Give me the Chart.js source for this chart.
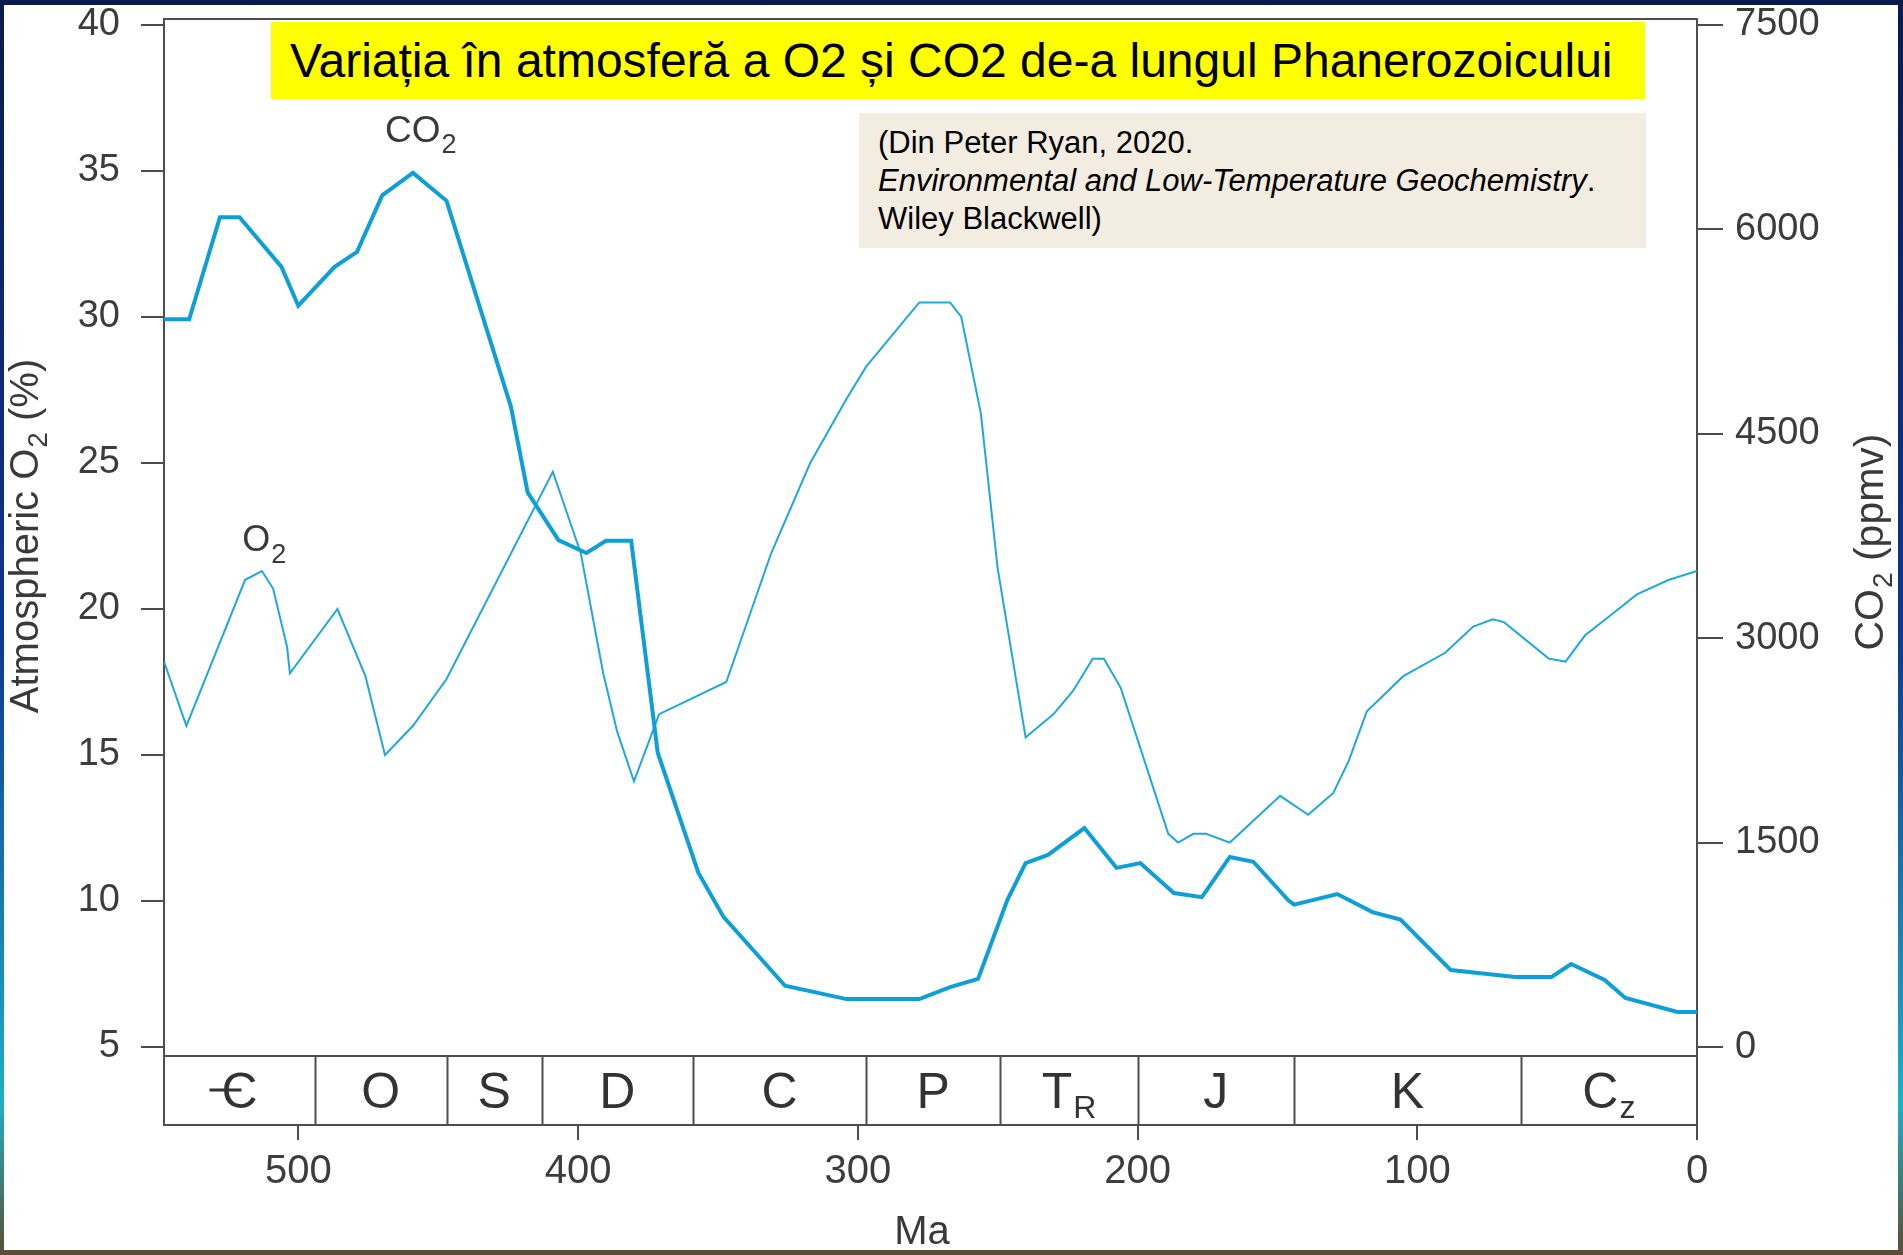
<!DOCTYPE html>
<html lang="ro">
<head>
<meta charset="utf-8">
<title>Variația O2 și CO2 în Phanerozoic</title>
<script src="https://cdn.jsdelivr.net/npm/chart.js@4.4.1/dist/chart.umd.min.js"></script>
<style>
  html, body { margin: 0; padding: 0; }
  body {
    width: 1903px; height: 1255px; overflow: hidden; position: relative;
    background: linear-gradient(180deg, #0a1a4c 0%, #0e3596 50%, #1eb0c4 88%, #5c4c34 100%);
  }
  #slide { position: absolute; left: 4px; top: 5px; width: 1894px; height: 1245px; background: #fff; }
  #chart { position: absolute; left: 0; top: 0; }
  .title-box {
    position: absolute; left: 267px; top: 17px; width: 1374px; height: 77px;
    box-sizing: border-box; padding-left: 19px; background: #ffff00; color: #000;
    font: 48px "Liberation Sans", Arial, sans-serif; line-height: 77px; white-space: nowrap;
  }
  .cite-box {
    position: absolute; left: 855px; top: 108px; width: 787px; height: 135px;
    box-sizing: border-box; padding: 11px 0 0 19px; background: #f3ece1; color: #000;
    font: 31px "Liberation Sans", Arial, sans-serif; line-height: 38px; white-space: nowrap;
  }
</style>
</head>
<body>
<div id="slide">
  <canvas id="chart" width="1894" height="1245"></canvas>
  <div class="title-box">Variația în atmosferă a O2 și CO2 de-a lungul Phanerozoicului</div>
  <div class="cite-box">(Din Peter Ryan, 2020.<br><i>Environmental and Low-Temperature Geochemistry</i>.<br>Wiley Blackwell)</div>
</div>
<script>
// ---- data (ages in Ma) ----
const co2Ages = [548, 539, 528, 521, 506, 500, 487, 479, 470, 459,
  447, 424, 418, 407, 397, 390, 381, 371.5, 357, 348,
  326, 304, 278, 267, 257, 246.5, 240, 232, 219, 207.5,
  199, 187, 177, 167, 158.6, 146, 144, 128.6, 116, 106,
  88, 65, 52, 45, 33, 25.6, 7, 0];
const co2Values = [5340, 5340, 6090, 6090, 5725, 5440, 5725, 5835, 6250, 6415,
  6210, 4700, 4070, 3720, 3625, 3715, 3715, 2160, 1280, 955,
  450, 352, 352, 440, 500, 1080, 1350, 1410, 1607, 1315,
  1350, 1130, 1100, 1395, 1360, 1075, 1045, 1123, 990, 935,
  565, 514, 514, 609, 492, 360, 257, 257];

const o2Ages = [548, 540, 519, 513, 509, 504, 503, 486, 476, 469,
  459, 447, 409, 399, 391, 386, 380, 371, 347, 331,
  317, 304, 297, 278, 267, 263, 256, 250, 240, 230,
  223, 216, 212, 206, 189, 185.5, 180, 175.5, 167, 149,
  139, 130, 124.5, 118, 105, 90, 80, 73, 69, 53,
  47, 40, 32, 21.5, 10, 0];
const o2Values = [18.2, 16.0, 21.0, 21.3, 20.7, 18.7, 17.8, 20.0, 17.7, 15.0,
  16.0, 17.6, 24.7, 21.9, 17.8, 15.8, 14.1, 16.4, 17.5, 21.9,
  25.0, 27.2, 28.3, 30.5, 30.5, 30.0, 26.7, 21.4, 15.6, 16.4,
  17.2, 18.3, 18.3, 17.3, 12.3, 12.0, 12.3, 12.3, 12.0, 13.6,
  12.95, 13.7, 14.8, 16.5, 17.7, 18.5, 19.4, 19.65, 19.55, 18.3,
  18.2, 19.1, 19.7, 20.5, 21.0, 21.3];

// geological periods: boundaries in Ma, label letter + subscript
const periodBounds = [548, 494, 447, 413, 359, 297, 249, 200, 144, 63, 0];
const periodLetters = ["C", "O", "S", "D", "C", "P", "T", "J", "K", "C"];
const periodSubs = ["", "", "", "", "", "", "R", "", "", "z"];

const ageTicks = [500, 400, 300, 200, 100, 0];
const o2Ticks = [5, 10, 15, 20, 25, 30, 35, 40];
const co2Ticks = [0, 1500, 3000, 4500, 6000, 7500];

// ---- styling ----
const FONT = '"Liberation Sans", Arial, sans-serif';
const AXIS_COLOR = "#4d4d4d";
const TEXT_COLOR = "#3c3c3c";
const LINE_COLOR = "#0f9fd8";
const STRIP_HEIGHT = 69;

function drawSubText(ctx, x, y, main, sub, size, subSize, subDrop) {
  ctx.font = `${size}px ${FONT}`;
  ctx.fillText(main, x, y);
  const w = ctx.measureText(main).width;
  ctx.font = `${subSize}px ${FONT}`;
  ctx.fillText(sub, x + w + 1, y + subDrop);
}

function subTextWidth(ctx, main, sub, size, subSize) {
  ctx.font = `${size}px ${FONT}`;
  const w1 = ctx.measureText(main).width;
  ctx.font = `${subSize}px ${FONT}`;
  return w1 + (sub ? ctx.measureText(sub).width + 1 : 0);
}

function line(ctx, x1, y1, x2, y2) {
  ctx.beginPath();
  ctx.moveTo(x1, y1);
  ctx.lineTo(x2, y2);
  ctx.stroke();
}

const decorPlugin = {
  id: "decor",
  afterDraw(chart) {
    const { ctx, chartArea: area, scales } = chart;
    const xs = scales.x, yO2 = scales.yO2, yCO2 = scales.yCO2;
    ctx.save();
    ctx.strokeStyle = AXIS_COLOR;
    ctx.lineWidth = 2;

    // top edge of the plot frame
    line(ctx, area.left, area.top, area.right, area.top);

    // period strip
    const stripTop = area.bottom - STRIP_HEIGHT;
    line(ctx, area.left, stripTop, area.right, stripTop);
    for (let i = 1; i < periodBounds.length - 1; i++) {
      const px = Math.round(xs.getPixelForValue(periodBounds[i])) + 0.5;
      line(ctx, px, stripTop, px, area.bottom);
    }
    ctx.fillStyle = "#333";
    ctx.textAlign = "left";
    ctx.textBaseline = "alphabetic";
    const base = area.bottom - 17;
    for (let i = 0; i < periodLetters.length; i++) {
      const cx = (xs.getPixelForValue(periodBounds[i]) + xs.getPixelForValue(periodBounds[i + 1])) / 2;
      const w = subTextWidth(ctx, periodLetters[i], periodSubs[i], 50, 32);
      const x0 = cx - w / 2;
      drawSubText(ctx, x0, base, periodLetters[i], periodSubs[i], 50, 32, 10);
      if (i === 0) {
        // Cambrian symbol: C with a bar through it
        ctx.lineWidth = 3;
        ctx.strokeStyle = "#333";
        line(ctx, x0 - 12, base - 18, x0 + 20, base - 18);
        ctx.strokeStyle = AXIS_COLOR;
        ctx.lineWidth = 2;
      }
    }

    // series labels
    ctx.fillStyle = "#3a3a3a";
    drawSubText(ctx, xs.getPixelForValue(469), yCO2.getPixelForValue(6642), "CO", "2", 37, 27, 11);
    drawSubText(ctx, xs.getPixelForValue(520), yO2.getPixelForValue(22.0), "O", "2", 36, 27, 12);

    // axis titles (rotated, with subscripts)
    const midY = yO2.getPixelForValue(22.5);
    ctx.save();
    ctx.translate(34, midY);
    ctx.rotate(-Math.PI / 2);
    let w = subTextWidth(ctx, "Atmospheric O", "2", 40, 28);
    ctx.font = `40px ${FONT}`;
    const w2 = ctx.measureText(" (%)").width;
    let x0 = -(w + w2) / 2;
    drawSubText(ctx, x0, 0, "Atmospheric O", "2", 40, 28, 9);
    ctx.font = `40px ${FONT}`;
    ctx.fillText(" (%)", x0 + w, 0);
    ctx.restore();

    ctx.save();
    ctx.translate(1879, midY + 6);
    ctx.rotate(-Math.PI / 2);
    w = subTextWidth(ctx, "CO", "2", 41, 28);
    ctx.font = `41px ${FONT}`;
    const w3 = ctx.measureText(" (ppmv)").width;
    x0 = -(w + w3) / 2;
    drawSubText(ctx, x0, 0, "CO", "2", 41, 28, 9);
    ctx.font = `41px ${FONT}`;
    ctx.fillText(" (ppmv)", x0 + w, 0);
    ctx.restore();

    // x-axis title
    ctx.font = `40px ${FONT}`;
    ctx.textAlign = "center";
    ctx.fillText("Ma", 918, 1239);
    ctx.restore();
  }
};

const toPoints = (ages, vals) => ages.map((a, i) => ({ x: a, y: vals[i] }));

new Chart(document.getElementById("chart"), {
  type: "line",
  data: {
    datasets: [
      {
        label: "CO2",
        data: toPoints(co2Ages, co2Values),
        yAxisID: "yCO2",
        borderColor: LINE_COLOR,
        borderWidth: 4,
        pointRadius: 0,
        tension: 0,
        fill: false
      },
      {
        label: "O2",
        data: toPoints(o2Ages, o2Values),
        yAxisID: "yO2",
        borderColor: "#20a8da",
        borderWidth: 2,
        pointRadius: 0,
        tension: 0,
        fill: false
      }
    ]
  },
  options: {
    responsive: false,
    animation: false,
    devicePixelRatio: 1,
    layout: { padding: { top: 14, left: 0, right: 0, bottom: 0 } },
    plugins: { legend: { display: false }, tooltip: { enabled: false } },
    scales: {
      x: {
        type: "linear",
        position: "bottom",
        reverse: true,
        min: 0,
        max: 548,
        afterBuildTicks: s => { s.ticks = ageTicks.map(v => ({ value: v })); },
        afterFit: s => { s.height = 125; s.paddingLeft = 0; s.paddingRight = 0; },
        ticks: {
          callback: v => String(v),
          font: { family: FONT, size: 40 },
          color: TEXT_COLOR,
          padding: 8,
          maxRotation: 0,
          autoSkip: false
        },
        grid: { drawOnChartArea: false, tickLength: 15, color: AXIS_COLOR, lineWidth: 2 },
        border: { display: true, color: AXIS_COLOR, width: 2 }
      },
      yO2: {
        type: "linear",
        position: "left",
        min: 2.329,
        max: 40.205,
        afterBuildTicks: s => { s.ticks = o2Ticks.map(v => ({ value: v })); },
        afterFit: s => { s.width = 160; s.paddingTop = 0; s.paddingBottom = 0; },
        ticks: {
          callback: v => String(v),
          font: { family: FONT, size: 38 },
          color: TEXT_COLOR,
          padding: 21,
          autoSkip: false
        },
        grid: { drawOnChartArea: false, tickLength: 23, color: AXIS_COLOR, lineWidth: 2 },
        border: { display: true, color: AXIS_COLOR, width: 2 }
      },
      yCO2: {
        type: "linear",
        position: "right",
        min: -572,
        max: 7544,
        afterBuildTicks: s => { s.ticks = co2Ticks.map(v => ({ value: v })); },
        afterFit: s => { s.width = 201; s.paddingTop = 0; s.paddingBottom = 0; },
        ticks: {
          callback: v => String(v),
          font: { family: FONT, size: 38 },
          color: TEXT_COLOR,
          padding: 12,
          autoSkip: false
        },
        grid: { drawOnChartArea: false, tickLength: 26, color: AXIS_COLOR, lineWidth: 2 },
        border: { display: true, color: AXIS_COLOR, width: 2 }
      }
    }
  },
  plugins: [decorPlugin]
});
</script>
</body>
</html>
